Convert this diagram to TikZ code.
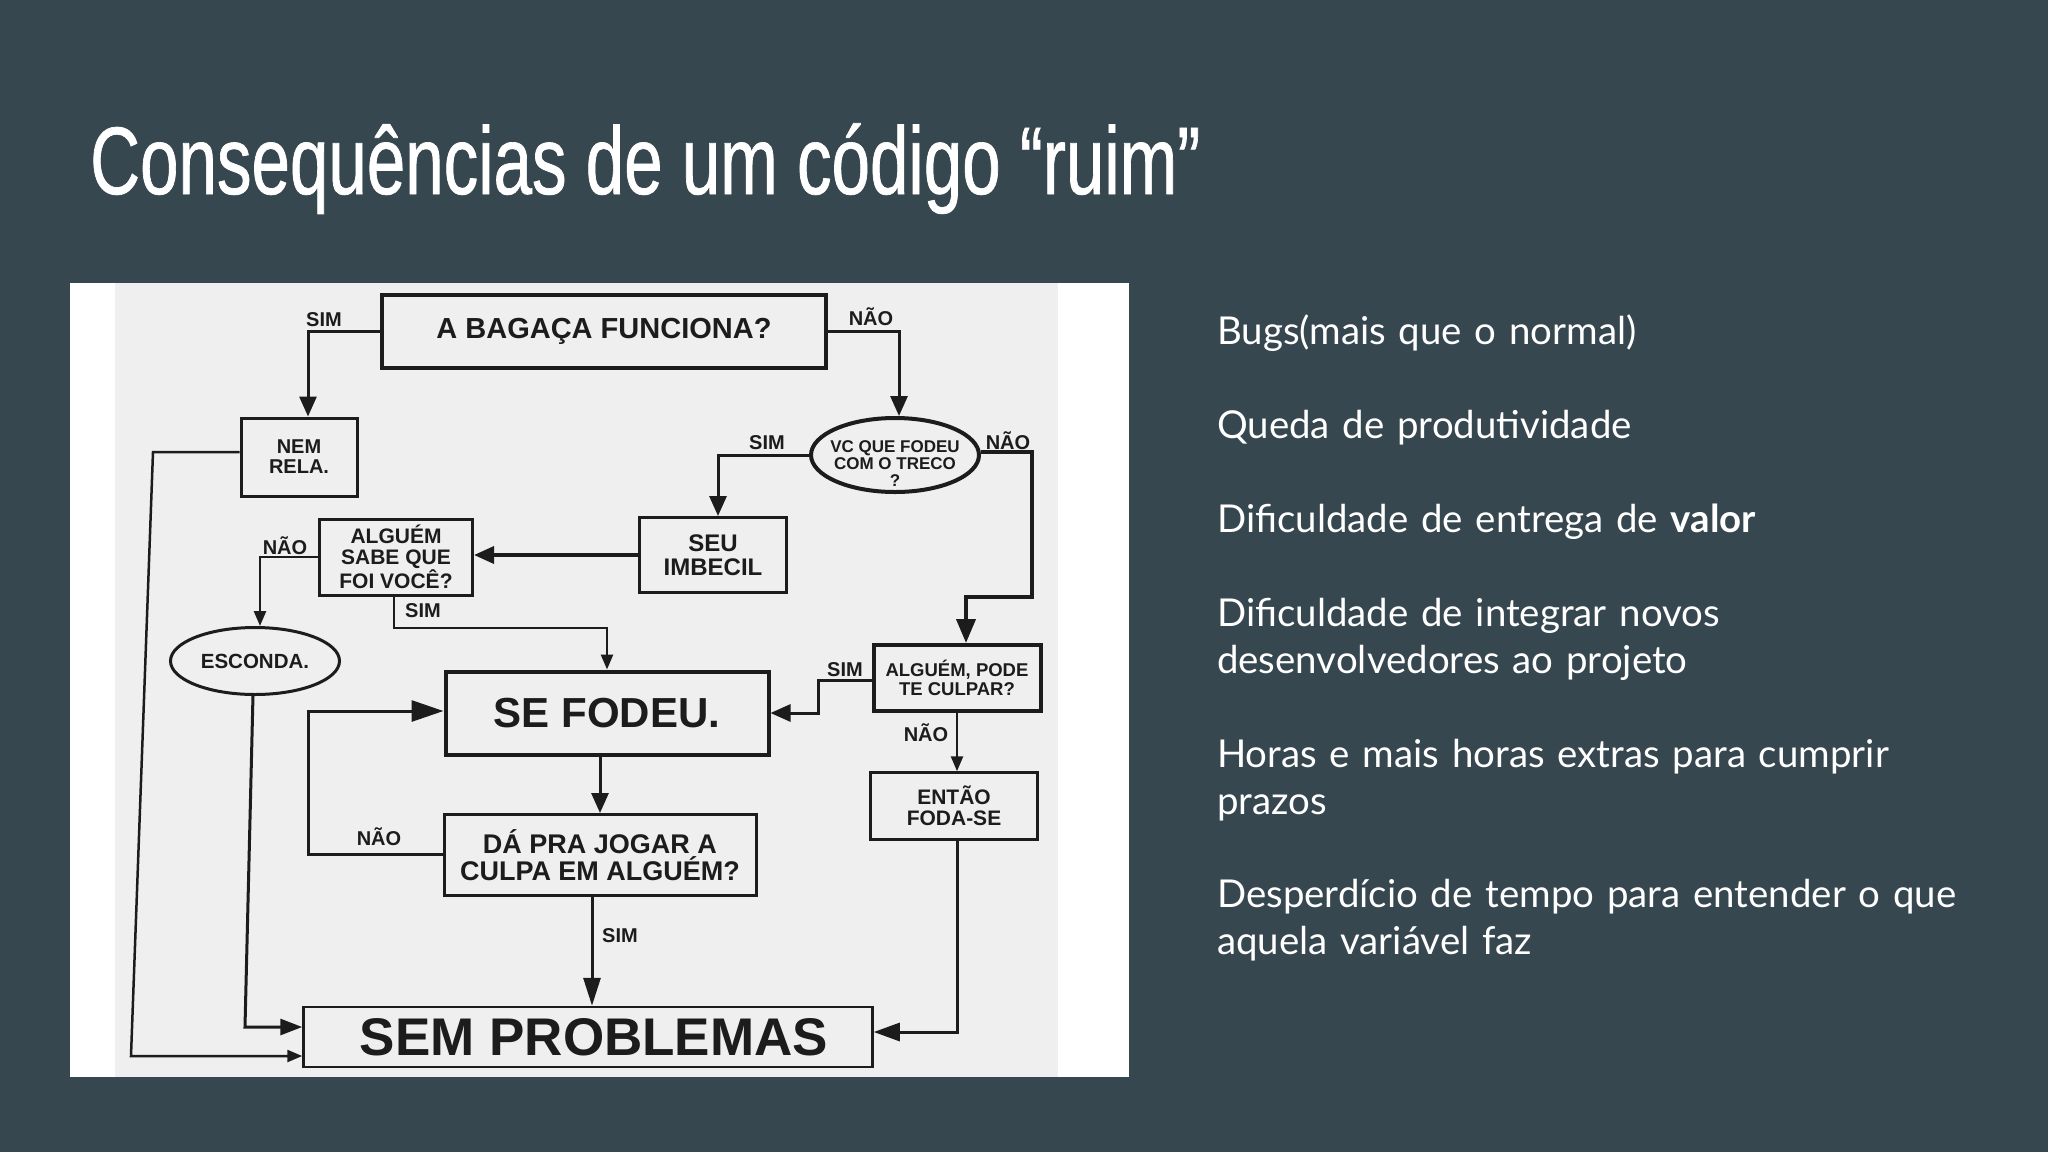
\documentclass[tikz,border=0pt]{standalone}
\usepackage{fontspec}
\usetikzlibrary{arrows.meta,shapes.geometric}
\setmainfont{Lato}
\newfontfamily\titlefont[FakeStretch=0.72,FakeBold=0.7]{Liberation Sans}
\newfontfamily\sketchfont{Liberation Sans}
\definecolor{slidebg}{HTML}{37474F}
\definecolor{paper}{HTML}{EFEFEF}
\definecolor{ink}{HTML}{1C1C1C}
\newcommand{\px}[1]{\fontsize{#1}{#1}\selectfont}
\tikzset{
	box/.style={
			draw=ink, line width=4pt, fill=paper, inner sep=0pt,
			align=center, text=ink, font=\sketchfont\bfseries
		},
	oval/.style={box, ellipse},
	tag/.style={text=ink, font=\sketchfont\bfseries\px{20}, inner sep=0pt},
	flow/.style={
			draw=ink, line width=3pt, rounded corners=0pt,
			-{Triangle[length=20pt,width=17pt]}
		},
	thin flow/.style={flow, line width=2.5pt, -{Triangle[length=15pt,width=12pt]}},
	item/.style={
			anchor=base west, inner sep=0pt, text=white, align=left,
			font=\fontsize{38.4}{47}\selectfont, text width=800pt
		}
}

\begin{document}
\begin{tikzpicture}[x=1pt, y=-1pt]
\useasboundingbox (0,0) rectangle (2048,1152);
\fill[slidebg] (0,0) rectangle (2048,1152);

% heading
\node[anchor=base west, inner sep=0pt, text=white, font=\titlefont\px{96}] (title)
	at (90,194) {Consequências de um código “ruim”};

% the scan
\fill[white] (70,283) rectangle (1129,1077);
\fill[paper] (115,283) rectangle (1058,1077);

% boxes of the chart
\node[box, minimum width=444pt, minimum height=73pt, font=\sketchfont\bfseries\px{29}] (bagaca)
	at (604,331) {A BAGAÇA FUNCIONA?};
\node[box, line width=3pt, minimum width=116pt, minimum height=78pt, font=\sketchfont\bfseries\px{20}] (nemrela)
	at (299,457) {NEM\\RELA.};
\node[oval, inner sep=-20pt, minimum width=168pt, minimum height=74pt, font=\sketchfont\bfseries\px{17}] (treco)
	at (895,455) {\rule{0pt}{28pt}VC QUE FODEU\\COM O TRECO\\?};
\node[box, line width=3pt, minimum width=147pt, minimum height=75pt, font=\sketchfont\bfseries\px{24}] (imbecil)
	at (713,555) {SEU\\IMBECIL};
\node[box, line width=3pt, minimum width=153pt, minimum height=76pt, font=\sketchfont\bfseries\px{21}] (sabe)
	at (396,557) {ALGUÉM\\SABE QUE\\FOI VOCÊ?};
\node[oval, line width=3pt, minimum width=169pt, minimum height=67pt, font=\sketchfont\bfseries\px{20.5}] (esconda)
	at (255,661) {ESCONDA.};
\node[box, minimum width=323pt, minimum height=83pt, font=\sketchfont\bfseries\px{42}] (fodeu)
	at (607,713) {SE FODEU.};
\node[box, minimum width=167pt, minimum height=66pt, font=\sketchfont\bfseries\px{18.5}] (culpar)
	at (957,678) {ALGUÉM, PODE\\TE CULPAR?};
\node[box, line width=2.5pt, minimum width=167pt, minimum height=67pt, font=\sketchfont\bfseries\px{21}] (entao)
	at (954,806) {ENTÃO\\FODA-SE};
\node[box, line width=3pt, minimum width=312pt, minimum height=81pt, font=\sketchfont\bfseries\px{27}] (jogar)
	at (600,855) {DÁ PRA JOGAR A\\CULPA EM ALGUÉM?};
\node[box, line width=2.5pt, minimum width=569pt, minimum height=60pt, font=\sketchfont\bfseries\px{53}] (sem)
	at (588,1037) {\hspace*{12pt}SEM PROBLEMAS};

% bends that are not on a box side
\coordinate (nemturn) at (153,452);
\coordinate (nemfoot) at (131,1056);
\coordinate (simdrop) at (394,628);
\coordinate (naoturn) at (1032,452);
\coordinate (naoback) at (1032,597);
\coordinate (culpin) at (966,597);
\coordinate (culpout) at (818,680);
\coordinate (escfoot) at (245,1027);
\coordinate (escneck) at (253,695);
\coordinate (jogleft) at (308,854);
\coordinate (jogtop) at (308,711);
\coordinate (entfoot) at (957,1032);

% connectors
\draw[flow] (bagaca.west) -| ([xshift=9pt]nemrela.north);
\draw[flow] (bagaca.east) -| ([xshift=4pt]treco.north);
\draw[flow] (treco.west) -| ([xshift=5pt]imbecil.north);
\draw[flow, line width=4pt, -{Triangle[length=24pt,width=19pt]}] (treco.east |- naoturn) -- (naoturn) -- (naoback) -- (culpin) -- (culpin |- culpar.north);
\draw[flow, line width=3.5pt] (imbecil.west) -- (sabe.east |- imbecil.west);
\draw[thin flow] (sabe.west) -| ([xshift=5pt]esconda.north);
\draw[thin flow] (sabe.south -| simdrop) -- (simdrop) -| (fodeu.north);
\draw[flow] (culpar.west |- culpout) -- (culpout) |- (fodeu.east);
\draw[thin flow] (culpar.south) -- (culpar.south |- entao.north);
\draw[flow] (fodeu.south -| jogar.north) -- (jogar.north);
\draw[flow, -{Triangle[length=32pt,width=21pt]}] (jogar.west |- jogleft) -- (jogleft) -- (jogtop) -- (jogtop -| fodeu.west);
\draw[flow, -{Triangle[length=28pt,width=17pt]}] ([xshift=-8pt]jogar.south) -- ([xshift=4pt]sem.north);
\draw[thin flow] (nemrela.west |- nemturn) -- (nemturn) -- (nemfoot) -- (nemfoot -| sem.west);
\draw[flow, -{Triangle[length=22pt,width=16pt]}] (escneck) -- (escfoot) -- (escfoot -| sem.west);
\draw[flow, -{Triangle[length=26pt,width=18pt]}] (entao.south -| entfoot) -- (entfoot) -- (entfoot -| sem.east);

% answers on the connectors
\node[tag] (simA) at (324,320) {SIM};
\node[tag] (naoA) at (871,317) {NÃO};
\node[tag] (simB) at (767,443) {SIM};
\node[tag] (naoB) at (1008,441) {NÃO};
\node[tag] (naoC) at (285,546) {NÃO};
\node[tag] (simC) at (423,611) {SIM};
\node[tag] (simD) at (845,670) {SIM};
\node[tag] (naoD) at (926,733) {NÃO};
\node[tag] (naoE) at (379,837) {NÃO};
\node[tag] (simE) at (620,936) {SIM};

% list on the right
\node[item] (bugs) at (1217,344) {Bugs(mais que o normal)};
\node[item] (queda) at (1217,438) {Queda de produtividade};
\node[item] (valor) at (1217,532) {Dificuldade de entrega de \textbf{valor}};
\node[item] (integrar) at (1217,626) {Dificuldade de integrar novos\\desenvolvedores ao projeto};
\node[item] (horas) at (1217,767) {Horas e mais horas extras para cumprir\\prazos};
\node[item] (tempo) at (1217,907) {Desperdício de tempo para entender o que\\aquela variável faz};
\end{tikzpicture}
\end{document}
